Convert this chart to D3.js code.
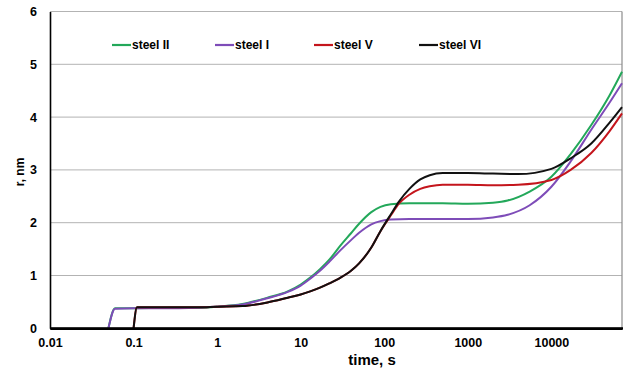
<!DOCTYPE html>
<html>
<head>
<meta charset="utf-8">
<script src="https://cdn.jsdelivr.net/npm/d3@7"></script>
<style>
  html, body { margin: 0; padding: 0; background: #fff; }
  svg { display: block; font-family: "Liberation Sans", Arial, sans-serif; }
</style>
</head>
<body>
<svg id="chart" width="628" height="371"></svg>
<script>
// Growth of mean radius r (nm) over annealing time (s), four steels
const tEarly = [0.05, 0.06, 0.1, 0.2, 0.6, 1, 2, 4, 7, 10, 13, 17, 22, 30, 40, 50, 70, 90, 120, 200, 500, 1000, 2000, 3000, 5500, 10000, 17000, 30000, 50000, 70000];
const steelII = [0, 0.38, 0.38, 0.385, 0.39, 0.41, 0.46, 0.58, 0.70, 0.83, 0.96, 1.12, 1.30, 1.57, 1.80, 1.98, 2.20, 2.30, 2.35, 2.37, 2.37, 2.36, 2.38, 2.42, 2.59, 2.87, 3.30, 3.85, 4.42, 4.86];
const steelI  = [0, 0.37, 0.38, 0.38, 0.39, 0.41, 0.45, 0.57, 0.69, 0.81, 0.94, 1.09, 1.26, 1.48, 1.67, 1.81, 1.97, 2.03, 2.06, 2.07, 2.07, 2.07, 2.10, 2.15, 2.33, 2.68, 3.16, 3.76, 4.28, 4.64];

const tLate = [0.1, 0.11, 0.2, 0.6, 1, 2, 4, 7, 10, 13, 17, 22, 30, 40, 50, 70, 90, 120, 150, 200, 270, 350, 500, 1000, 2000, 4000, 10000, 17000, 30000, 50000, 70000];
const steelV  = [0, 0.40, 0.40, 0.40, 0.41, 0.42, 0.49, 0.58, 0.64, 0.70, 0.77, 0.85, 0.96, 1.09, 1.23, 1.53, 1.84, 2.14, 2.36, 2.53, 2.64, 2.69, 2.72, 2.72, 2.71, 2.72, 2.81, 3.00, 3.32, 3.74, 4.07];
const steelVI = [0, 0.40, 0.40, 0.40, 0.41, 0.42, 0.49, 0.58, 0.64, 0.70, 0.77, 0.85, 0.96, 1.09, 1.23, 1.53, 1.84, 2.16, 2.40, 2.64, 2.82, 2.90, 2.94, 2.94, 2.93, 2.92, 3.02, 3.22, 3.50, 3.90, 4.19];

const xTicks = [0.01, 0.1, 1, 10, 100, 1000, 10000];
const xTickLabels = ["0.01", "0.1", "1", "10", "100", "1000", "10000"];
const yTicks = [0, 1, 2, 3, 4, 5, 6];

const seriesNames = ["steel II", "steel I", "steel V", "steel VI"];
const seriesColors = ["#23a85a", "#7e4cb8", "#c4151c", "#111111"];

const series = [
  { name: seriesNames[0], color: seriesColors[0], t: tEarly, r: steelII },
  { name: seriesNames[1], color: seriesColors[1], t: tEarly, r: steelI },
  { name: seriesNames[2], color: seriesColors[2], t: tLate, r: steelV },
  { name: seriesNames[3], color: seriesColors[3], t: tLate, r: steelVI }
];

const svg = d3.select("#chart");
const plotLeft = 50, plotRight = 622, plotTop = 11.5, plotBottom = 328.3;

const x = d3.scaleLog().domain([0.01, 70000]).range([plotLeft, plotRight]);
const y = d3.scaleLinear().domain([0, 6]).range([plotBottom, plotTop]);

// horizontal gridlines
svg.append("g")
  .selectAll("line")
  .data(yTicks.filter(d => d > 0))
  .join("line")
  .attr("x1", plotLeft).attr("x2", plotRight)
  .attr("y1", d => y(d)).attr("y2", d => y(d))
  .attr("stroke", "#b3b3b3").attr("stroke-width", 1);

// right border
svg.append("line")
  .attr("x1", plotRight).attr("x2", plotRight)
  .attr("y1", plotTop).attr("y2", plotBottom)
  .attr("stroke", "#8c8c8c").attr("stroke-width", 1.2);

// y axis (labels only, black spine)
const yAxis = svg.append("g")
  .attr("transform", `translate(${plotLeft},0)`)
  .call(d3.axisLeft(y).tickValues(yTicks).tickSize(0).tickPadding(13).tickFormat(d3.format("d")));
yAxis.select(".domain").attr("stroke", "#000").attr("stroke-width", 1.6);
yAxis.selectAll("text").attr("font-size", 12.5).attr("font-weight", "bold").attr("fill", "#000")
  .attr("font-family", "Liberation Sans, Arial, sans-serif");

// x axis
const xAxis = svg.append("g")
  .attr("transform", `translate(0,${plotBottom})`)
  .call(d3.axisBottom(x).tickValues(xTicks).tickSize(0).tickPadding(10)
    .tickFormat((d, i) => xTickLabels[i]));
xAxis.select(".domain").attr("stroke", "#000").attr("stroke-width", 2.2);
xAxis.selectAll("text").attr("font-size", 12.5).attr("font-weight", "bold").attr("fill", "#000")
  .attr("font-family", "Liberation Sans, Arial, sans-serif");

// series lines
const line = d3.line()
  .x(d => x(d[0]))
  .y(d => y(d[1]))
  .curve(d3.curveMonotoneX);

svg.append("g")
  .selectAll("path")
  .data(series)
  .join("path")
  .attr("d", s => line(s.t.map((t, i) => [t, s.r[i]])))
  .attr("fill", "none")
  .attr("stroke", s => s.color)
  .attr("stroke-width", 2)
  .attr("stroke-linejoin", "round");

// redraw the bottom axis line on top of the curves
svg.append("line")
  .attr("x1", plotLeft).attr("x2", plotRight + 1).attr("y1", plotBottom).attr("y2", plotBottom)
  .attr("stroke", "#000").attr("stroke-width", 2.2);

// legend
const legendX = [112, 215, 314, 419];
const legend = svg.append("g");
series.forEach((s, i) => {
  const g = legend.append("g").attr("transform", `translate(${legendX[i]},45)`);
  g.append("line").attr("x1", 0).attr("x2", 19).attr("y1", 0).attr("y2", 0)
    .attr("stroke", s.color).attr("stroke-width", 2.2);
  g.append("text").attr("x", 20).attr("y", 4.3)
    .attr("font-size", 12).attr("font-weight", "bold").attr("fill", "#000")
    .text(s.name);
});

// axis titles
svg.append("text")
  .attr("x", 372).attr("y", 365)
  .attr("text-anchor", "middle")
  .attr("font-size", 15).attr("font-weight", "bold")
  .text("time, s");

svg.append("text")
  .attr("transform", "translate(24,172) rotate(-90)")
  .attr("text-anchor", "middle")
  .attr("font-size", 12).attr("font-weight", "bold")
  .text("r, nm");
</script>
</body>
</html>
